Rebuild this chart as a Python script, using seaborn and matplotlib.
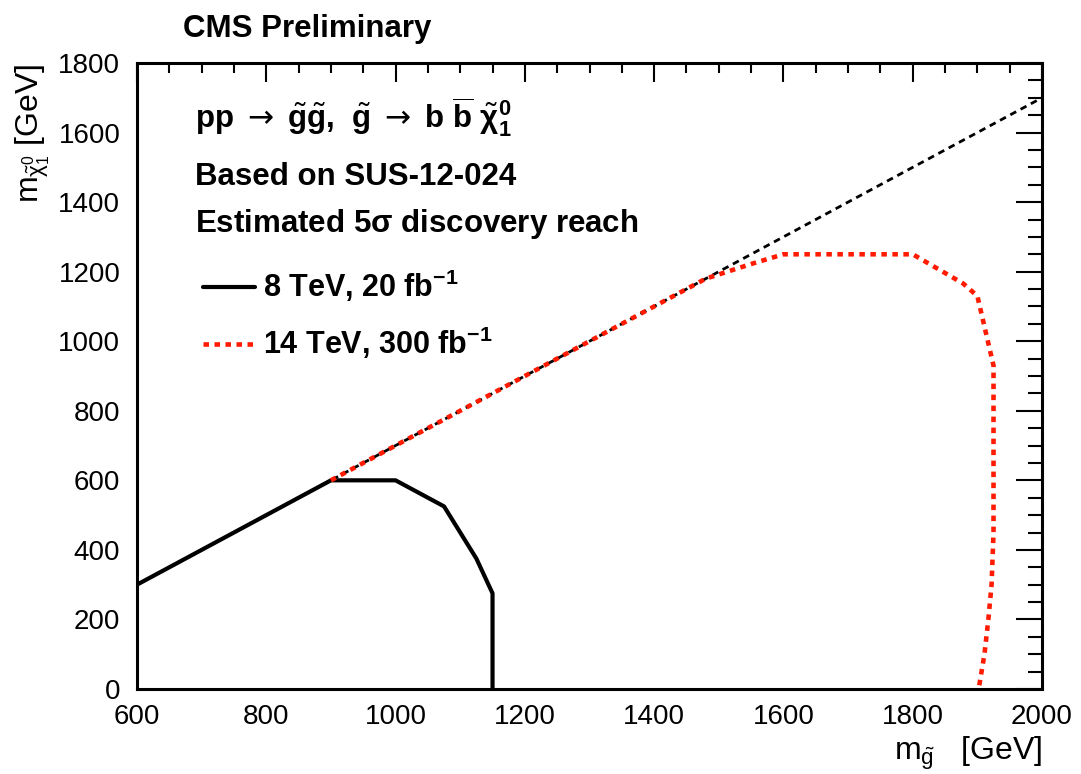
import matplotlib
matplotlib.use("Agg")
import matplotlib.pyplot as plt
import seaborn as sns
import pandas as pd
from matplotlib.ticker import MultipleLocator

# ---------------- data ----------------
diag_x = [600, 2000]
diag_y = [300, 1700]
lhc8_x = [600, 900, 1000, 1075, 1125, 1150, 1150]
lhc8_y = [300, 600, 600, 525, 375, 275, 0]
lhc14_x = [900, 1480, 1550, 1600, 1800, 1878, 1900, 1925, 1925, 1922, 1917, 1911, 1902]
lhc14_y = [600, 1180, 1222, 1250, 1250, 1166, 1130, 930, 450, 300, 200, 100, 0]
xticks = [600, 800, 1000, 1200, 1400, 1600, 1800, 2000]
yticks = [0, 200, 400, 600, 800, 1000, 1200, 1400, 1600, 1800]
label8 = r"8 TeV, 20 fb$^{\mathbf{-1}}$"
label14 = r"14 TeV, 300 fb$^{\mathbf{-1}}$"

sns.set_style("white")
plt.rcParams['font.family'] = ['Liberation Sans', 'DejaVu Sans']
plt.rcParams['mathtext.fontset'] = 'custom'
plt.rcParams['mathtext.rm'] = 'Liberation Sans'
plt.rcParams['mathtext.it'] = 'Liberation Sans:italic'
plt.rcParams['mathtext.bf'] = 'Liberation Sans:bold'
plt.rcParams['mathtext.sf'] = 'DejaVu Sans'
plt.rcParams['mathtext.default'] = 'regular'
for k in ['text.color', 'axes.labelcolor', 'xtick.color', 'ytick.color', 'axes.edgecolor']:
    plt.rcParams[k] = 'black'

fig = plt.figure(figsize=(10.81, 7.74), dpi=100)
ax = fig.add_axes([137/1081, 1-689/774, (1042-137)/1081, (689-63)/774])

d_diag = pd.DataFrame({"x": diag_x, "y": diag_y})
d8 = pd.DataFrame({"x": lhc8_x, "y": lhc8_y})
d14 = pd.DataFrame({"x": lhc14_x, "y": lhc14_y})

sns.lineplot(data=d_diag, x="x", y="y", ax=ax, sort=False, estimator=None,
             color="black", linewidth=2.0, legend=False)
ax.lines[-1].set_dashes((2.4, 1.8))
sns.lineplot(data=d8, x="x", y="y", ax=ax, sort=False, estimator=None,
             color="black", linewidth=3.0, label=label8)
sns.lineplot(data=d14, x="x", y="y", ax=ax, sort=False, estimator=None,
             color="#ff1a00", linewidth=3.3, label=label14)
l14 = ax.lines[-1]
l14.set_dashes((1.2, 1.2))
l14.set_dash_capstyle('butt')
l8 = ax.lines[-2]

ax.set_xlim(600, 2000)
ax.set_ylim(0, 1800)
ax.set_xticks(xticks)
ax.set_yticks(yticks)
ax.xaxis.set_minor_locator(MultipleLocator(50))
ax.yaxis.set_minor_locator(MultipleLocator(50))
ax.tick_params(which='both', direction='in', top=True, right=True, width=1.5,
               color='black', labelsize=20, labelcolor='black')
ax.tick_params(axis='y', which='major', length=19, pad=12)
ax.tick_params(axis='y', which='minor', length=10)
ax.tick_params(axis='x', which='major', length=14, pad=11)
ax.tick_params(axis='x', which='minor', length=7)
for s in ax.spines.values():
    s.set_linewidth(2.2)
    s.set_color('black')

ax.set_xlabel(r"$\mathrm{m}_{\tilde{g}}$   [GeV]", fontsize=23, loc='right')
ax.xaxis.set_label_coords(1.001, -0.0735)
ax.set_ylabel(r"$\mathrm{m}_{\tilde{\chi}^{0}_{1}}$ [GeV]", fontsize=23, loc='top')
ax.yaxis.set_label_coords(-0.0934, 1.0)

fig.text(183/1081, 1-37/774, "CMS Preliminary", fontsize=22.5, fontweight='bold',
         ha='left', va='baseline')

ax.text(0.0641, 0.896,
        r"$\mathbf{pp}\ \mathsf{\rightarrow}\ \tilde{\mathbf{g}}\tilde{\mathbf{g}}\mathbf{,}\ \ \tilde{\mathbf{g}}\ \mathsf{\rightarrow}\ \mathbf{b}\ \overline{\mathbf{b}}\ \tilde{\mathbf{\chi}}^{\mathbf{0}}_{\mathbf{1}}$",
        transform=ax.transAxes, fontsize=22.5, ha='left', va='baseline')
ax.text(0.0641, 0.805, "Based on SUS-12-024", transform=ax.transAxes,
        fontsize=22.5, fontweight='bold', ha='left', va='baseline')
ax.text(0.0641, 0.730, r"Estimated 5$\mathbf{\sigma}$ discovery reach", transform=ax.transAxes,
        fontsize=22.5, fontweight='bold', ha='left', va='baseline')

ax.legend(handles=[l8, l14], labels=[label8, label14], loc='upper left',
          bbox_to_anchor=(0.0729, 0.6725), frameon=False, borderpad=0, borderaxespad=0,
          handlelength=1.7, handletextpad=0.25, labelspacing=0.68,
          prop={'weight': 'bold', 'size': 22})

fig.savefig("out.png", dpi=100)
